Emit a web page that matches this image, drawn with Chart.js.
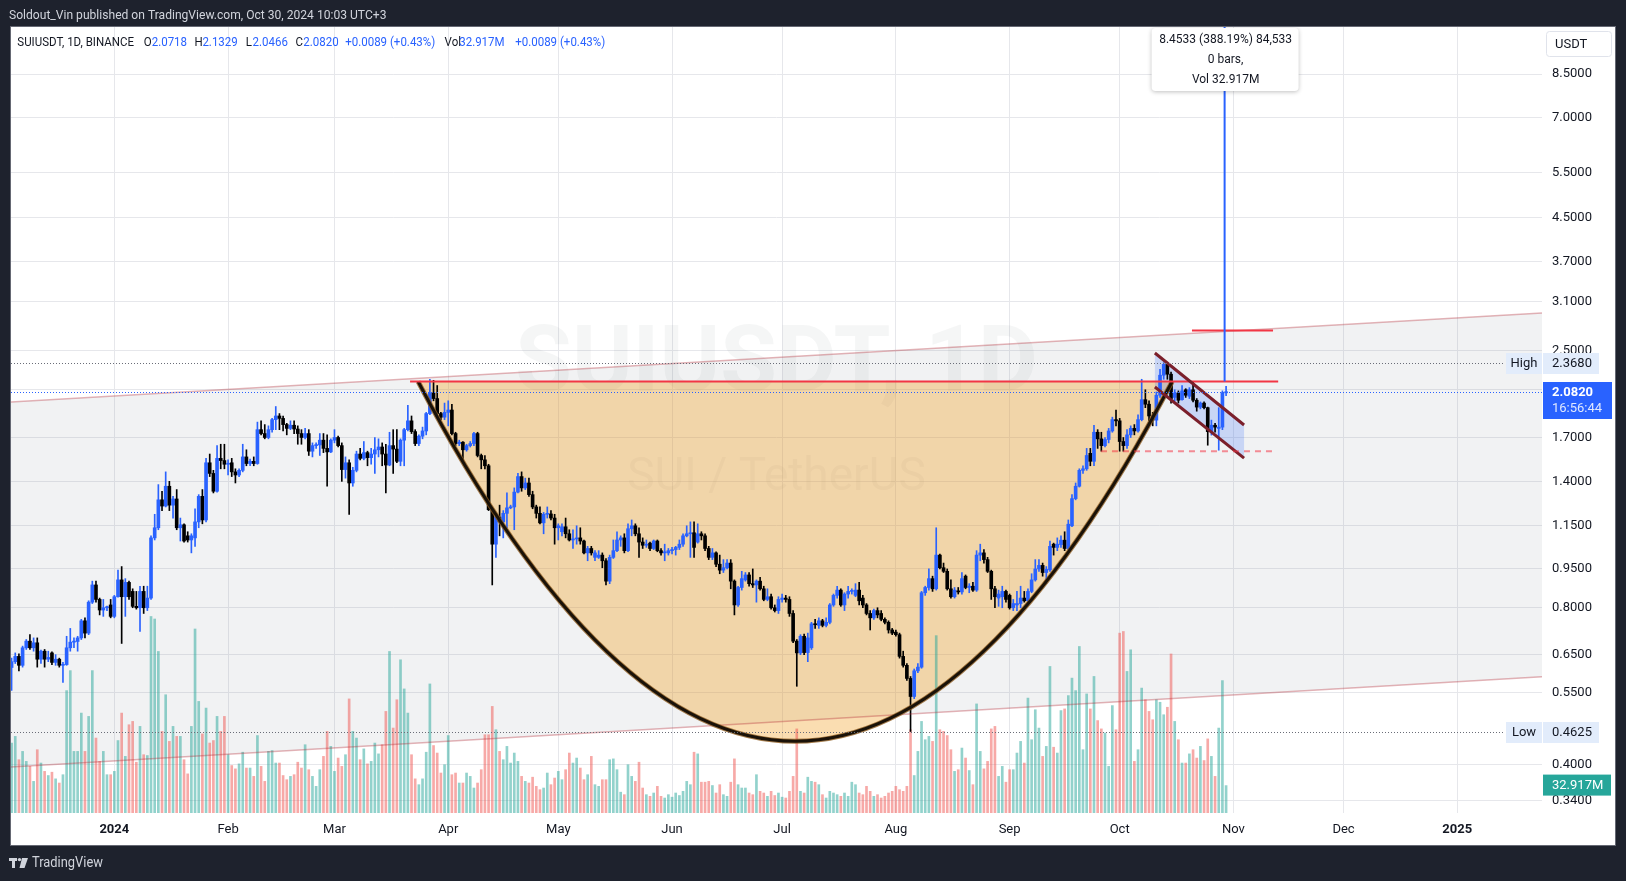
<!DOCTYPE html>
<html>
<head>
<meta charset="utf-8">
<script src="https://cdn.jsdelivr.net/npm/chart.js@4.4.0/dist/chart.umd.min.js"></script>
<style>
  html, body { margin: 0; padding: 0; background: #1e222d; }
  #wrap { width: 1626px; height: 881px; }
</style>
</head>
<body>
<div id="wrap"><canvas id="chart" width="1626" height="881"></canvas></div>
<script>
// SUIUSDT daily, first bar = 2023-12-04, last bar = 2024-10-30
const opens = [
  0.614,0.630,0.645,0.620,0.670,0.690,0.670,0.685,0.637,0.660,
  0.637,0.655,0.628,0.637,0.620,0.622,0.670,0.687,0.689,0.700,
  0.755,0.715,0.820,0.885,0.830,0.792,0.800,0.810,0.770,0.840,
  0.905,0.840,0.895,0.860,0.805,0.800,0.860,0.800,0.835,1.090,
  1.140,1.290,1.255,1.370,1.260,1.295,1.140,1.155,1.100,1.080,
  1.090,1.170,1.310,1.180,1.520,1.450,1.340,1.550,1.535,1.510,
  1.520,1.460,1.440,1.470,1.560,1.515,1.530,1.515,1.760,1.730,
  1.700,1.760,1.840,1.870,1.850,1.800,1.770,1.795,1.765,1.730,
  1.700,1.730,1.600,1.640,1.645,1.680,1.620,1.595,1.680,1.700,
  1.640,1.475,1.520,1.390,1.470,1.580,1.550,1.590,1.555,1.580,
  1.610,1.630,1.580,1.505,1.640,1.615,1.530,1.680,1.760,1.830,
  1.745,1.655,1.710,1.750,1.890,2.070,2.020,1.890,1.860,1.900,
  1.920,1.730,1.655,1.665,1.610,1.640,1.655,1.730,1.570,1.540,
  1.500,1.235,1.060,1.195,1.170,1.215,1.245,1.250,1.335,1.430,
  1.360,1.390,1.320,1.250,1.215,1.165,1.210,1.212,1.190,1.140,
  1.120,1.145,1.110,1.080,1.085,1.090,1.075,1.020,1.040,1.000,
  1.000,1.010,0.985,0.900,1.000,1.030,1.080,1.090,1.030,1.135,
  1.150,1.110,1.070,1.055,1.065,1.040,1.075,1.030,1.020,1.020,
  1.030,1.035,1.045,1.060,1.100,1.110,1.115,1.070,1.110,1.100,
  1.040,1.000,1.020,0.970,0.945,0.955,0.975,0.900,0.810,0.875,
  0.905,0.925,0.890,0.885,0.900,0.870,0.830,0.840,0.800,0.790,
  0.830,0.835,0.830,0.780,0.690,0.655,0.705,0.656,0.670,0.745,
  0.740,0.755,0.740,0.750,0.810,0.845,0.865,0.810,0.850,0.860,
  0.845,0.865,0.835,0.810,0.780,0.765,0.790,0.780,0.760,0.750,
  0.725,0.718,0.710,0.645,0.620,0.585,0.540,0.605,0.615,0.855,
  0.875,0.910,0.870,1.010,0.955,0.940,0.870,0.840,0.862,0.858,
  0.920,0.875,0.880,0.865,1.010,1.020,0.990,0.940,0.870,0.835,
  0.840,0.860,0.845,0.800,0.810,0.815,0.835,0.825,0.860,0.905,
  0.950,0.965,0.935,0.946,1.060,1.045,1.058,1.079,1.040,1.150,
  1.297,1.370,1.470,1.480,1.585,1.530,1.740,1.690,1.640,1.685,
  1.750,1.840,1.830,1.670,1.640,1.720,1.770,1.750,1.840,2.010,
  1.970,1.870,1.836,2.050,2.240,2.350,2.250,2.030,2.070,2.010,
  2.100,2.040,2.100,2.005,1.945,1.980,1.940,1.745,1.795,1.770,
  1.780,2.0718
];
const highs = [
  0.640,0.655,0.652,0.675,0.695,0.710,0.700,0.700,0.663,0.665,
  0.660,0.658,0.650,0.640,0.628,0.705,0.730,0.700,0.705,0.760,
  0.765,0.825,0.900,0.900,0.835,0.830,0.806,0.830,0.845,0.945,
  0.960,0.910,0.900,0.870,0.860,0.880,0.880,0.880,1.100,1.210,
  1.380,1.340,1.460,1.400,1.310,1.350,1.190,1.160,1.120,1.110,
  1.240,1.320,1.350,1.550,1.580,1.470,1.640,1.650,1.650,1.540,
  1.550,1.480,1.480,1.650,1.610,1.545,1.560,1.820,1.830,1.800,
  1.790,1.850,1.950,1.890,1.870,1.810,1.830,1.830,1.790,1.760,
  1.770,1.760,1.660,1.660,1.730,1.730,1.720,1.690,1.760,1.710,
  1.660,1.560,1.540,1.490,1.600,1.620,1.670,1.600,1.620,1.700,
  1.690,1.660,1.650,1.740,1.760,1.760,1.690,1.770,1.960,1.870,
  1.760,1.720,1.780,1.900,2.200,2.190,2.140,1.900,1.980,2.000,
  1.970,1.740,1.680,1.670,1.650,1.670,1.740,1.740,1.580,1.570,
  1.510,1.240,1.210,1.260,1.230,1.330,1.260,1.360,1.450,1.460,
  1.420,1.420,1.340,1.260,1.250,1.220,1.250,1.230,1.210,1.160,
  1.160,1.190,1.130,1.130,1.150,1.140,1.080,1.050,1.050,1.030,
  1.030,1.020,0.995,1.010,1.080,1.120,1.100,1.110,1.160,1.180,
  1.160,1.140,1.090,1.080,1.070,1.080,1.080,1.040,1.060,1.040,
  1.045,1.050,1.080,1.110,1.150,1.170,1.170,1.160,1.120,1.110,
  1.050,1.040,1.025,1.010,0.990,0.990,0.990,0.905,0.880,0.940,
  0.935,0.935,0.950,0.905,0.915,0.880,0.870,0.850,0.810,0.840,
  0.850,0.845,0.840,0.790,0.695,0.710,0.712,0.715,0.750,0.760,
  0.765,0.760,0.765,0.815,0.850,0.880,0.870,0.855,0.880,0.870,
  0.890,0.895,0.845,0.815,0.790,0.795,0.800,0.790,0.765,0.755,
  0.730,0.725,0.715,0.660,0.625,0.590,0.610,0.625,0.860,0.880,
  0.950,0.920,1.140,1.015,0.975,0.950,0.905,0.875,0.875,0.935,
  0.925,0.890,0.895,1.030,1.060,1.035,1.000,0.945,0.880,0.865,
  0.880,0.865,0.850,0.830,0.860,0.880,0.860,0.870,0.930,0.990,
  0.990,0.975,0.960,1.075,1.065,1.090,1.100,1.120,1.180,1.320,
  1.390,1.480,1.500,1.620,1.620,1.795,1.760,1.740,1.700,1.770,
  1.860,1.920,1.850,1.700,1.760,1.790,1.800,1.880,2.200,2.100,
  2.000,1.900,2.080,2.300,2.368,2.360,2.270,2.100,2.090,2.140,
  2.110,2.120,2.175,2.020,1.990,1.990,1.945,1.836,1.810,1.940,
  2.090,2.1329
];
const lows = [
  0.555,0.625,0.605,0.615,0.665,0.665,0.660,0.615,0.625,0.615,
  0.630,0.622,0.620,0.615,0.575,0.620,0.660,0.670,0.660,0.695,
  0.700,0.710,0.815,0.820,0.775,0.770,0.790,0.765,0.765,0.838,
  0.683,0.770,0.830,0.800,0.795,0.720,0.780,0.790,0.830,1.080,
  1.130,1.230,1.250,1.230,1.190,1.130,1.075,1.070,1.070,1.020,
  1.050,1.140,1.160,1.170,1.430,1.330,1.335,1.480,1.480,1.440,
  1.430,1.390,1.430,1.460,1.500,1.500,1.500,1.510,1.720,1.690,
  1.690,1.740,1.760,1.760,1.750,1.720,1.760,1.730,1.650,1.650,
  1.690,1.570,1.560,1.620,1.570,1.590,1.370,1.590,1.660,1.630,
  1.400,1.420,1.210,1.370,1.460,1.540,1.540,1.500,1.510,1.450,
  1.560,1.500,1.330,1.500,1.450,1.520,1.500,1.500,1.750,1.730,
  1.640,1.640,1.690,1.720,1.880,2.000,1.880,1.840,1.840,1.790,
  1.720,1.640,1.640,1.540,1.600,1.630,1.640,1.560,1.480,1.480,
  1.230,0.885,1.000,1.100,1.090,1.140,1.240,1.130,1.330,1.340,
  1.350,1.310,1.240,1.190,1.160,1.110,1.190,1.180,1.060,1.080,
  1.100,1.090,1.075,1.040,1.060,1.060,1.015,0.985,1.010,0.985,
  0.995,0.955,0.885,0.890,0.995,1.025,1.050,1.020,1.025,1.100,
  1.100,1.000,1.040,1.045,1.030,1.035,1.025,1.010,0.985,1.010,
  1.015,1.010,1.035,1.050,1.095,1.000,1.000,1.065,1.080,1.030,
  0.990,0.990,0.960,0.930,0.935,0.950,0.870,0.775,0.805,0.865,
  0.900,0.880,0.875,0.820,0.865,0.825,0.825,0.795,0.785,0.780,
  0.820,0.820,0.770,0.685,0.565,0.650,0.650,0.630,0.665,0.730,
  0.730,0.735,0.735,0.745,0.805,0.835,0.805,0.790,0.835,0.850,
  0.840,0.810,0.800,0.775,0.725,0.760,0.765,0.755,0.745,0.715,
  0.710,0.705,0.640,0.615,0.580,0.4625,0.535,0.600,0.612,0.845,
  0.865,0.860,0.865,0.950,0.935,0.865,0.835,0.835,0.850,0.850,
  0.870,0.855,0.860,0.860,0.985,0.975,0.935,0.830,0.800,0.805,
  0.800,0.820,0.795,0.790,0.790,0.800,0.820,0.815,0.855,0.900,
  0.940,0.920,0.890,0.940,1.010,1.030,1.045,1.030,1.035,1.145,
  1.290,1.365,1.450,1.470,1.500,1.500,1.620,1.600,1.630,1.660,
  1.740,1.790,1.600,1.600,1.620,1.700,1.720,1.740,1.830,1.940,
  1.830,1.790,1.790,2.030,2.200,2.200,1.980,2.000,1.980,2.005,
  2.030,2.020,1.990,1.910,1.930,1.930,1.643,1.718,1.740,1.607,
  1.760,2.0466
];
const closes = [
  0.630,0.645,0.620,0.670,0.690,0.670,0.685,0.637,0.660,0.637,
  0.642,0.628,0.637,0.620,0.622,0.670,0.687,0.689,0.700,0.755,
  0.715,0.820,0.885,0.830,0.792,0.800,0.801,0.770,0.840,0.905,
  0.840,0.895,0.840,0.805,0.800,0.860,0.800,0.835,1.090,1.140,
  1.290,1.255,1.370,1.260,1.295,1.140,1.155,1.075,1.080,1.100,
  1.170,1.310,1.180,1.520,1.450,1.340,1.550,1.535,1.510,1.515,
  1.460,1.440,1.470,1.560,1.515,1.530,1.515,1.760,1.730,1.700,
  1.760,1.840,1.870,1.850,1.800,1.770,1.795,1.765,1.730,1.700,
  1.730,1.600,1.640,1.645,1.680,1.620,1.595,1.680,1.700,1.640,
  1.475,1.520,1.390,1.470,1.580,1.550,1.590,1.555,1.580,1.610,
  1.630,1.580,1.505,1.640,1.615,1.530,1.680,1.760,1.830,1.745,
  1.655,1.710,1.750,1.890,2.070,2.020,1.890,1.860,1.900,1.920,
  1.730,1.655,1.665,1.610,1.640,1.655,1.730,1.570,1.540,1.500,
  1.235,1.060,1.195,1.170,1.215,1.245,1.250,1.335,1.430,1.360,
  1.390,1.320,1.250,1.215,1.165,1.210,1.212,1.190,1.140,1.150,
  1.145,1.110,1.080,1.085,1.088,1.075,1.020,1.040,1.020,1.020,
  1.010,0.985,0.900,1.000,1.030,1.080,1.090,1.030,1.135,1.150,
  1.110,1.070,1.055,1.060,1.040,1.075,1.030,1.020,1.025,1.030,
  1.035,1.045,1.060,1.100,1.110,1.115,1.045,1.110,1.100,1.040,
  1.000,1.020,0.970,0.945,0.955,0.975,0.900,0.810,0.875,0.910,
  0.925,0.890,0.885,0.900,0.870,0.830,0.840,0.800,0.790,0.830,
  0.835,0.830,0.780,0.690,0.655,0.705,0.656,0.700,0.745,0.742,
  0.755,0.740,0.750,0.810,0.845,0.865,0.810,0.850,0.860,0.862,
  0.865,0.825,0.810,0.780,0.765,0.790,0.775,0.760,0.750,0.725,
  0.715,0.710,0.645,0.620,0.585,0.540,0.605,0.615,0.855,0.875,
  0.910,0.870,1.010,0.955,0.940,0.870,0.840,0.865,0.858,0.910,
  0.875,0.880,0.865,1.010,1.020,0.990,0.940,0.870,0.840,0.850,
  0.860,0.830,0.800,0.815,0.815,0.835,0.825,0.860,0.905,0.950,
  0.965,0.935,0.948,1.050,1.045,1.060,1.079,1.040,1.158,1.297,
  1.370,1.470,1.480,1.570,1.530,1.740,1.690,1.640,1.685,1.750,
  1.840,1.830,1.670,1.640,1.720,1.770,1.750,1.840,2.010,1.970,
  1.870,1.836,2.050,2.240,2.350,2.250,2.020,2.070,2.005,2.090,
  2.050,2.100,2.005,1.945,1.980,1.940,1.745,1.795,1.780,1.780,
  2.0731,2.0820
];
// volume in millions of SUI
const volumes = [
  84,92,64,74,62,56,38,76,60,50,
  45,49,41,36,46,147,171,74,74,120,
  74,116,171,90,62,74,46,46,50,87,
  120,68,106,110,61,104,70,69,236,233,
  194,98,142,86,104,92,92,64,47,104,
  221,134,95,126,84,87,116,98,116,70,
  57,53,59,73,54,54,44,93,56,38,
  74,75,60,60,45,40,44,46,61,54,
  82,52,44,32,52,68,98,80,50,66,
  56,70,137,98,90,64,77,59,62,84,
  71,82,122,194,102,136,184,149,120,70,
  41,34,41,73,155,81,72,48,58,93,
  46,48,36,36,48,44,30,36,52,94,
  94,128,100,74,64,80,60,72,62,44,
  38,36,43,32,28,30,48,34,42,50,
  40,52,72,60,66,54,40,46,68,34,
  32,40,40,64,65,52,25,22,58,44,
  38,61,30,22,20,24,32,20,18,22,
  19,24,21,26,38,34,73,71,37,37,
  38,33,24,34,22,20,37,65,34,30,
  30,24,22,46,26,24,20,26,21,24,
  19,18,26,44,101,26,24,43,38,37,
  34,22,18,26,24,22,20,24,20,37,
  34,24,22,32,26,20,22,18,20,24,
  26,32,28,26,32,100,45,74,110,88,
  92,86,213,100,98,93,76,50,52,78,
  66,51,34,131,74,53,62,101,104,44,
  56,37,52,52,72,86,60,138,88,124,
  102,68,80,176,79,72,123,125,141,162,
  147,200,76,143,125,164,111,101,96,56,
  129,100,216,218,170,196,62,76,150,136,
  122,112,136,133,118,127,191,110,88,60,
  60,71,76,66,80,63,89,68,44,102,
  159,32.917
];

// axes
const priceTicks = [0.34, 0.4, 0.55, 0.65, 0.8, 0.95, 1.15, 1.4, 1.7, 2.1, 2.5, 3.1, 3.7, 4.5, 5.5, 7.0, 8.5];
const monthTicks = [28, 59, 88, 119, 149, 180, 210, 241, 272, 302, 333, 363, 394];
const monthLabels = ['2024', 'Feb', 'Mar', 'Apr', 'May', 'Jun', 'Jul', 'Aug', 'Sep', 'Oct', 'Nov', 'Dec', '2025'];
const yearTicks = [28, 394];

// drawings, as [bar index, price]
const bigChannelTop = [[-0.16, 1.989], [417.1, 2.950]];
const bigChannelBottom = [[-0.16, 0.3952], [417.1, 0.5895]];
const cupStart = [110.8, 2.178];
const cupEnd = [316.3, 2.178];
const cupControl = [213.5, 0.0901];
const resistanceLine = [[108.6, 2.178], [345.2, 2.178]];
const flagTop = [[311.6, 2.471], [335.9, 1.797]];
const flagBottom = [[311.6, 2.126], [335.9, 1.552]];
const flagSupport = [[296.9, 1.60], [344.3, 1.60]];
const targetLine = [[321.7, 2.730], [343.8, 2.730]];
const measureBar = 330.6;
const measureFrom = 2.1776;
const measureTo = 10.6309;

const FONT = 'Roboto, "Liberation Sans", sans-serif';
const UP = '#2962ff';
const DOWN = '#000000';
const GRID = '#e6e7eb';
const INK = '#131722';

const n = closes.length;
const idx = closes.map((c, i) => i);
const isUp = idx.map(i => closes[i] >= opens[i]);

function pt(chart, p) {
  return [chart.scales.x.getPixelForValue(p[0]), chart.scales.y.getPixelForValue(p[1])];
}
function seg(ctx, chart, a, b) {
  const p = pt(chart, a), q = pt(chart, b);
  ctx.beginPath(); ctx.moveTo(p[0], p[1]); ctx.lineTo(q[0], q[1]); ctx.stroke();
}
// text with optional horizontal squeeze (the reference uses a narrow UI font)
function label(ctx, s, x, y, font, color, align, sx) {
  ctx.save();
  ctx.font = font; ctx.fillStyle = color; ctx.textAlign = align || 'left'; ctx.textBaseline = 'middle';
  ctx.translate(x, y); ctx.scale(sx || 1, 1);
  ctx.fillText(s, 0, 0);
  ctx.restore();
}
function roundRect(ctx, x, y, w, h, r) {
  ctx.beginPath();
  ctx.moveTo(x + r, y); ctx.lineTo(x + w - r, y); ctx.quadraticCurveTo(x + w, y, x + w, y + r);
  ctx.lineTo(x + w, y + h - r); ctx.quadraticCurveTo(x + w, y + h, x + w - r, y + h);
  ctx.lineTo(x + r, y + h); ctx.quadraticCurveTo(x, y + h, x, y + h - r);
  ctx.lineTo(x, y + r); ctx.quadraticCurveTo(x, y, x + r, y);
  ctx.closePath();
}

const overlay = {
  id: 'overlay',
  beforeDraw(chart) {
    const ctx = chart.ctx;
    ctx.save();
    ctx.fillStyle = '#1e222d';
    ctx.fillRect(0, 0, chart.width, chart.height);
    ctx.fillStyle = '#ffffff';
    ctx.fillRect(11, 27, 1604, 818);
    ctx.restore();
  },
  beforeDatasetsDraw(chart) {
    const { ctx, chartArea: a } = chart;
    ctx.save();
    ctx.beginPath(); ctx.rect(a.left, a.top, a.right - a.left, a.bottom - a.top); ctx.clip();

    // watermark
    const cx = (a.left + a.right) / 2, cy = (a.top + a.bottom) / 2;
    label(ctx, 'SUIUSDT, 1D', cx, cy - 52, 'bold 92px ' + FONT, 'rgba(120,123,134,0.07)', 'center');
    label(ctx, 'SUI / TetherUS', cx, cy + 58, '46px ' + FONT, 'rgba(120,123,134,0.07)', 'center');

    // rising channel background
    let p1 = pt(chart, bigChannelTop[0]), p2 = pt(chart, bigChannelTop[1]);
    let p3 = pt(chart, bigChannelBottom[1]), p4 = pt(chart, bigChannelBottom[0]);
    ctx.fillStyle = 'rgba(120,123,134,0.1)';
    ctx.beginPath(); ctx.moveTo(...p1); ctx.lineTo(...p2); ctx.lineTo(...p3); ctx.lineTo(...p4); ctx.closePath(); ctx.fill();

    // cup fill
    const s = pt(chart, cupStart), e = pt(chart, cupEnd), c = pt(chart, cupControl);
    ctx.fillStyle = 'rgba(240,160,40,0.36)';
    ctx.beginPath(); ctx.moveTo(...s); ctx.quadraticCurveTo(c[0], c[1], e[0], e[1]); ctx.closePath(); ctx.fill();

    // bull flag fill
    p1 = pt(chart, flagTop[0]); p2 = pt(chart, flagTop[1]);
    p3 = pt(chart, flagBottom[1]); p4 = pt(chart, flagBottom[0]);
    ctx.fillStyle = 'rgba(41,98,255,0.2)';
    ctx.beginPath(); ctx.moveTo(...p1); ctx.lineTo(...p2); ctx.lineTo(...p3); ctx.lineTo(...p4); ctx.closePath(); ctx.fill();
    ctx.restore();
  },
  afterDatasetsDraw(chart) {
    const { ctx, chartArea: a } = chart;
    const y = chart.scales.y;
    ctx.save();
    ctx.beginPath(); ctx.rect(a.left, a.top, a.right - a.left, a.bottom - a.top); ctx.clip();

    // rising channel borders
    ctx.strokeStyle = 'rgba(178,40,51,0.35)'; ctx.lineWidth = 1.5;
    seg(ctx, chart, bigChannelTop[0], bigChannelTop[1]);
    seg(ctx, chart, bigChannelBottom[0], bigChannelBottom[1]);

    // cup curve
    const s = pt(chart, cupStart), e = pt(chart, cupEnd), c = pt(chart, cupControl);
    ctx.beginPath(); ctx.moveTo(...s); ctx.quadraticCurveTo(c[0], c[1], e[0], e[1]);
    ctx.strokeStyle = 'rgba(140,90,30,0.8)'; ctx.lineWidth = 5; ctx.stroke();
    ctx.strokeStyle = '#1a1208'; ctx.lineWidth = 3; ctx.stroke();

    // resistance (cup rim) and target
    ctx.strokeStyle = '#f23645'; ctx.lineWidth = 2;
    seg(ctx, chart, resistanceLine[0], resistanceLine[1]);
    seg(ctx, chart, targetLine[0], targetLine[1]);

    // flag borders
    ctx.strokeStyle = '#7b1f2a'; ctx.lineWidth = 3;
    seg(ctx, chart, flagTop[0], flagTop[1]);
    seg(ctx, chart, flagBottom[0], flagBottom[1]);

    // flag support
    ctx.strokeStyle = 'rgba(242,54,69,0.55)'; ctx.lineWidth = 2; ctx.setLineDash([6, 5]);
    seg(ctx, chart, flagSupport[0], flagSupport[1]);
    ctx.setLineDash([]);

    // high / low / last price lines
    const hi = Math.max(...highs), lo = Math.min(...lows), last = closes[n - 1];
    const hy = Math.round(y.getPixelForValue(hi)) + 0.5;
    const loy = Math.round(y.getPixelForValue(lo)) + 0.5;
    const ly = Math.round(y.getPixelForValue(last)) + 0.5;
    ctx.lineWidth = 1; ctx.setLineDash([1, 2]);
    ctx.strokeStyle = '#6a6d78';
    ctx.beginPath(); ctx.moveTo(a.left, hy); ctx.lineTo(1505, hy); ctx.stroke();
    ctx.beginPath(); ctx.moveTo(a.left, loy); ctx.lineTo(1505, loy); ctx.stroke();
    ctx.strokeStyle = UP;
    ctx.beginPath(); ctx.moveTo(a.left, ly); ctx.lineTo(a.right, ly); ctx.stroke();
    ctx.setLineDash([]);

    // price range measure
    const mx = chart.scales.x.getPixelForValue(measureBar);
    ctx.strokeStyle = UP; ctx.lineWidth = 2;
    ctx.beginPath(); ctx.moveTo(mx, y.getPixelForValue(measureFrom)); ctx.lineTo(mx, y.getPixelForValue(measureTo)); ctx.stroke();

    const diff = measureTo - measureFrom;
    ctx.shadowColor = 'rgba(0,0,0,0.25)'; ctx.shadowBlur = 4; ctx.shadowOffsetY = 1;
    ctx.fillStyle = '#ffffff';
    roundRect(ctx, mx - 73, 28, 147, 63, 4); ctx.fill();
    ctx.shadowColor = 'transparent';
    const f12 = '12px ' + FONT;
    label(ctx, diff.toFixed(4) + ' (' + (diff / measureFrom * 100).toFixed(2) + '%) ' + Math.round(diff * 10000).toLocaleString('en-US'), mx + 1, 40, f12, INK, 'center');
    label(ctx, '0 bars,', mx + 1, 60, f12, INK, 'center');
    label(ctx, 'Vol ' + volumes[n - 1].toFixed(3) + 'M', mx + 1, 79.5, f12, INK, 'center');
    ctx.restore();
  },
  afterDraw(chart) {
    const ctx = chart.ctx;
    const y = chart.scales.y;
    const hi = Math.max(...highs), lo = Math.min(...lows), last = closes[n - 1];
    const f13 = '13px ' + FONT;
    ctx.save();

    // pane border
    ctx.strokeStyle = 'rgba(149,152,161,0.6)'; ctx.lineWidth = 1;
    ctx.strokeRect(10.5, 26.5, 1605, 819);

    // high / low labels on the price scale
    [[hi, 'High'], [lo, 'Low']].forEach(([v, t]) => {
      const py = Math.round(y.getPixelForValue(v));
      ctx.fillStyle = '#e2ecfb';
      ctx.fillRect(1506, py - 10, 36, 21);
      ctx.fillRect(1543, py - 10, 56, 21);
      label(ctx, t, 1524, py + 1, f13, INK, 'center');
      label(ctx, v.toFixed(4), 1552, py + 1, f13, INK, 'left');
    });

    // volume label
    const vy = chart.scales.yv.getPixelForValue(volumes[n - 1]);
    ctx.fillStyle = '#26a69a';
    ctx.fillRect(1543, vy - 11, 68, 21);
    label(ctx, volumes[n - 1].toFixed(3) + 'M', 1552, vy, f13, '#ffffff', 'left');

    // last price label
    const ly = Math.round(y.getPixelForValue(last));
    ctx.fillStyle = UP;
    ctx.fillRect(1543, ly - 10, 69, 37);
    label(ctx, last.toFixed(4), 1552, ly + 1, 'bold 13px ' + FONT, '#ffffff', 'left');
    label(ctx, '16:56:44', 1552, ly + 17, f13, 'rgba(255,255,255,0.85)', 'left');

    // currency button
    ctx.fillStyle = '#ffffff'; ctx.strokeStyle = '#e0e3eb';
    roundRect(ctx, 1546.5, 31.5, 65, 25, 3); ctx.fill(); ctx.stroke();
    label(ctx, 'USDT', 1555, 44.5, f13, INK, 'left');

    // publishing header
    label(ctx, 'Soldout_Vin published on TradingView.com, Oct 30, 2024 10:03 UTC+3', 9, 15.5, f13, '#d1d4dc', 'left', 0.93);

    // legend
    const fl = '12.5px ' + FONT;
    const chg = last - closes[n - 2];
    const sign = chg >= 0 ? '+' : '';
    const chgTxt = sign + chg.toFixed(4) + ' (' + sign + (chg / closes[n - 2] * 100).toFixed(2) + '%)';
    const parts = [
      ['SUIUSDT, 1D, BINANCE', 17.3, INK], ['O', 143.8, INK], [opens[n - 1].toFixed(4), 151.7, UP],
      ['H', 194.6, INK], [highs[n - 1].toFixed(4), 202.4, UP], ['L', 245.8, INK], [lows[n - 1].toFixed(4), 252.6, UP],
      ['C', 295.5, INK], [last.toFixed(4), 303.3, UP], [chgTxt, 345.2, UP], ['Vol', 444.6, INK],
      [volumes[n - 1].toFixed(3) + 'M', 459.2, UP], [chgTxt, 515.2, UP]
    ];
    parts.forEach(([t, x, col]) => label(ctx, t, x, 42.5, fl, col, 'left', 0.92));

    // footer logo
    ctx.fillStyle = '#d1d4dc';
    ctx.fillRect(9, 858, 8, 3);
    ctx.fillRect(12, 858, 3, 10);
    ctx.beginPath(); ctx.arc(19.5, 859.6, 1.7, 0, Math.PI * 2); ctx.fill();
    ctx.beginPath(); ctx.moveTo(22, 858); ctx.lineTo(28, 858); ctx.lineTo(24.5, 868); ctx.lineTo(19.5, 868); ctx.closePath(); ctx.fill();
    label(ctx, 'TradingView', 32, 863, '14px ' + FONT, '#d1d4dc', 'left', 0.92);
    ctx.restore();
  }
};

new Chart(document.getElementById('chart'), {
  type: 'bar',
  data: {
    datasets: [
      {
        label: 'bodies',
        data: idx.map(i => ({ x: i, y: [opens[i], closes[i]] })),
        backgroundColor: idx.map(i => isUp[i] ? UP : DOWN),
        barThickness: 3, minBarLength: 1, grouped: false, order: 1, yAxisID: 'y'
      },
      {
        label: 'wicks',
        data: idx.map(i => ({ x: i, y: [lows[i], highs[i]] })),
        backgroundColor: idx.map(i => isUp[i] ? UP : DOWN),
        barThickness: 1, grouped: false, order: 2, yAxisID: 'y'
      },
      {
        label: 'volume',
        data: idx.map(i => ({ x: i, y: volumes[i] })),
        backgroundColor: idx.map(i => isUp[i] ? 'rgba(38,166,154,0.5)' : 'rgba(239,83,80,0.5)'),
        barThickness: 2, grouped: false, order: 3, yAxisID: 'yv'
      }
    ]
  },
  options: {
    responsive: false,
    animation: false,
    events: [],
    layout: { padding: { left: 11, top: 27, right: 11, bottom: 36 } },
    plugins: { legend: { display: false }, tooltip: { enabled: false } },
    scales: {
      x: {
        type: 'linear', min: -0.16, max: 417.1, offset: false,
        grid: { color: GRID, drawTicks: false, offset: false },
        border: { display: false },
        afterBuildTicks: s => { s.ticks = monthTicks.map(v => ({ value: v })); },
        afterFit: s => { s.height = 32; },
        ticks: {
          autoSkip: false, maxRotation: 0, padding: 9, color: INK,
          font: c => ({ family: FONT, size: 13, weight: (c.tick && yearTicks.includes(c.tick.value)) ? 'bold' : 'normal' }),
          callback: v => monthLabels[monthTicks.indexOf(v)] ?? ''
        }
      },
      y: {
        type: 'logarithmic', position: 'right', min: 0.3224, max: 10.467,
        beginAtZero: false, bounds: 'data', offset: false,
        grid: { color: GRID, drawTicks: false },
        border: { display: false },
        afterBuildTicks: s => { s.ticks = priceTicks.map(v => ({ value: v })); },
        afterFit: s => { s.width = 73; },
        ticks: { autoSkip: false, padding: 10, color: INK, font: { family: FONT, size: 13 }, callback: v => Number(v).toFixed(4) }
      },
      yv: { type: 'linear', display: false, min: 0, max: 944 }
    }
  },
  plugins: [overlay]
});
</script>
</body>
</html>
